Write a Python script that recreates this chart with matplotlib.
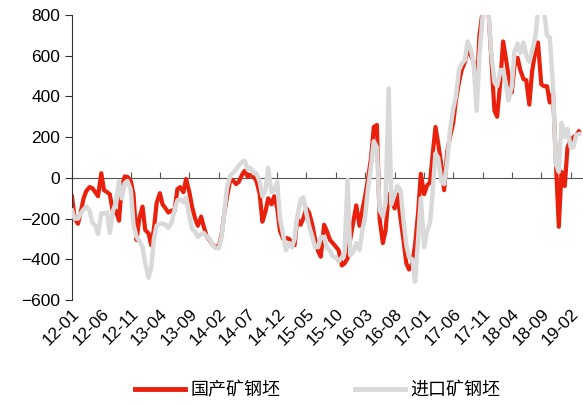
import numpy as np
import pandas as pd
import matplotlib
matplotlib.use('Agg')
import matplotlib.pyplot as plt
import matplotlib.dates as mdates

# semi-monthly readings, 2012-01 .. 2019-03
domestic = [
    -92, -200, -225, -170, -100, -65, -45, -50, -70, -90,
    23, -60, -70, -80, -172, -160, -210, -40, 7, 5,
    -15, -80, -305, -200, -141, -256, -272, -330, -250, -124,
    -75, -130, -150, -170, -160, -165, -55, -45, -70, -5,
    -70, -141, -200, -235, -190, -240, -290, -305, -330, -338,
    -335, -280, -174, -95, -10, -12, -30, -20, 15, 35,
    5, 15, 5, -15, -80, -215, -165, -100, -130, -90,
    -150, -260, -300, -295, -300, -320, -330, -200, -230, -200,
    -150, -170, -230, -300, -360, -387, -230, -260, -305, -320,
    -338, -354, -430, -420, -395, -300, -210, -135, -235, -160,
    -90, -10, 100, 250, 260, -200, -320, -260, -80, -110,
    -150, -80, -200, -300, -420, -450, -420, -330, -170, 20,
    -80, -40, -20, 120, 250, 170, 60, -60, 130, 200,
    270, 380, 470, 530, 570, 640, 600, 570, 420, 700,
    820, 830, 820, 600, 330, 300, 480, 670, 590, 500,
    420, 550, 590, 530, 485, 480, 360, 520, 620, 665,
    460, 450, 450, 370, 420, 100, -240, 30, -40, 150,
    185, 200, 210, 228,
]
imported = [
    -160, -200, -200, -175, -155, -141, -160, -220, -235, -275,
    -174, -174, -170, -270, -160, -125, -18, -100, -25, -15,
    -60, -230, -290, -310, -340, -420, -490, -440, -300, -235,
    -225, -225, -230, -245, -220, -160, -110, -105, -120, -95,
    -190, -250, -265, -290, -275, -270, -290, -300, -330, -345,
    -345, -290, -174, -50, 10, 25, 40, 60, 78, 85,
    40, 50, 23, 23, -20, -90, -60, 50, -70, -60,
    -20, -200, -280, -355, -320, -340, -300, -190, -108, -95,
    -174, -235, -290, -340, -340, -290, -290, -340, -360, -385,
    -390, -410, -390, -370, -10, -380, -360, -320, -354, -260,
    -190, -60, 60, 180, 150, -157, -190, -120, 440, -130,
    -80, -40, -60, -200, -330, -390, -400, -510, -300, -100,
    -340, -265, -220, -60, 120, 100, -20, -30, 80, 230,
    340, 400, 530, 560, 580, 670, 630, 560, 330, 600,
    800, 830, 820, 620, 470, 450, 530, 530, 460, 380,
    450, 620, 660, 613, 665, 600, 570, 620, 690, 820,
    820, 820, 700, 690, 450, 70, 30, 270, 200, 240,
    150, 150, 210, 215,
]
labels = ['国产矿钢坯', '进口矿钢坯']

dates = pd.date_range('2012-01-01', periods=len(domestic), freq='SMS')

plt.rcParams['font.family'] = ['Liberation Sans', 'DejaVu Sans']
fig = plt.figure(figsize=(5.83, 4.05), dpi=100)
ax = fig.add_axes([0.1235, 0.259, 0.875, 0.704])

ax.plot(dates, domestic, color='#e8200c', lw=3.0, label=labels[0], zorder=2)
ax.plot(dates, imported, color='#d9d9d9', lw=3.2, label=labels[1], zorder=3)

ax.set_ylim(-600, 800)
ax.set_yticks(range(-600, 801, 200))
ax.set_xlim(pd.Timestamp('2012-01-01'), pd.Timestamp('2019-04-01'))
ticks = pd.date_range('2012-01-01', '2019-02-01', freq='5MS')
ax.set_xticks(ticks)
ax.set_xticklabels([d.strftime('%y-%m') for d in ticks], rotation=45,
                   ha='right', rotation_mode='anchor', fontsize=12.5)
ax.tick_params(axis='x', length=0, pad=4)
ax.tick_params(axis='y', direction='out', length=5, labelsize=12.5, color='#333333')

for s in ['top', 'right', 'bottom']:
    ax.spines[s].set_visible(False)
ax.spines['left'].set_color('#333333')

# zero line carrying the tick marks
zero = ax.secondary_xaxis(600 / 1400)
zero.set_xticks(ticks)
zero.set_xticklabels([])
zero.tick_params(direction='in', length=4, color='#555555')
zero.spines['bottom'].set_color('#555555')
zero.spines['top'].set_color('#555555')

leg = fig.legend(loc='center', bbox_to_anchor=(0.545, 0.037), ncol=2, frameon=False,
                 prop={'family': ['Noto Sans CJK SC', 'DejaVu Sans'], 'size': 13},
                 handlelength=2.8, columnspacing=4.1, handletextpad=0.3)
for line in leg.get_lines():
    line.set_linewidth(3.5)

fig.savefig('out.png', dpi=100)
